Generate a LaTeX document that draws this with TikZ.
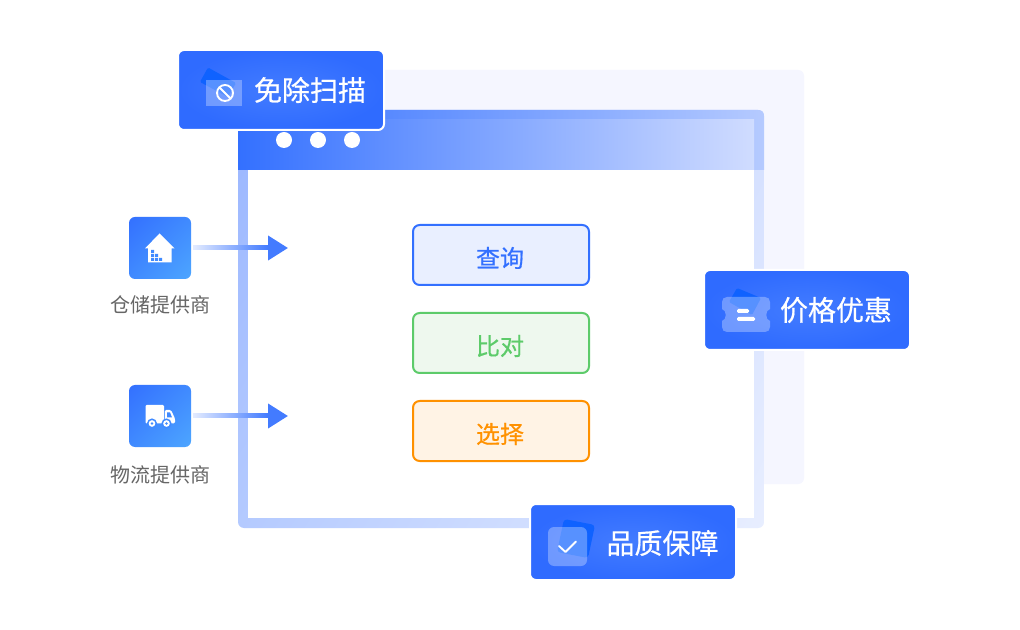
\documentclass[tikz,border=0pt]{standalone}
\usepackage{fontspec}
\setmainfont{Noto Sans CJK SC}
\newfontfamily\cjkmed[FakeBold=0.6]{Noto Sans CJK SC}
\usetikzlibrary{arrows.meta,calc,shapes.geometric,shadings}
\definecolor{brand}{HTML}{3370FF}
\definecolor{panel}{HTML}{F5F6FF}
\definecolor{darktile}{HTML}{0F62FF}
\definecolor{greytext}{HTML}{666666}
\definecolor{okgreen}{HTML}{5DCB6A}
\definecolor{warnorange}{HTML}{FF9100}
\definecolor{tilemid}{HTML}{408AFF}
\definecolor{sky}{HTML}{4DA6FF}
\definecolor{badgein}{HTML}{437CFF}
\definecolor{badgeout}{HTML}{2F6BFF}
\definecolor{frameul}{HTML}{9AB6FF}
\definecolor{frameur}{HTML}{D3DFFF}
\definecolor{framell}{HTML}{B4CAFF}
\definecolor{framelr}{HTML}{E8EEFF}
\definecolor{stripend}{HTML}{B5CAFF}
\definecolor{titlemid}{HTML}{8FAEFF}
\definecolor{titleend}{HTML}{D0DCFF}
\definecolor{fillblue}{HTML}{E9EFFF}
\definecolor{fillgreen}{HTML}{EEF8EE}
\definecolor{fillorange}{HTML}{FFF3E5}
\definecolor{shaftstart}{HTML}{E3EBFF}
\def\px{0.75pt}
\tikzset{
  tile/.style={shade,upper left=brand,upper right=tilemid,lower left=tilemid,lower right=sky,
    rounded corners=4.5pt,minimum width=62*\px,minimum height=62*\px,inner sep=0pt,outer sep=0pt},
  caption/.style={font=\fontsize{15}{15}\selectfont,text=greytext,inner sep=0pt},
  actionbox/.style={rounded corners=5pt,line width=1.5pt,minimum width=176*\px,minimum height=60*\px,inner sep=0pt,outer sep=0pt},
  actionlabel/.style={font=\cjkmed\fontsize{18}{18}\selectfont,inner sep=0pt},
  badge/.style={draw=white,line width=1.5pt,shade,inner color=badgein,outer color=badgeout,rounded corners=4.5pt,inner sep=0pt,outer sep=0pt},
  badgetext/.style={text=white,font=\cjkmed\fontsize{21}{21}\selectfont,inner sep=0pt},
  feed/.style={draw=brand!92!white,line width=3pt,shorten <=1.5pt,-{Triangle[length=15pt,width=18pt]}},
  overlaytile/.style={fill=white,fill opacity=0.3},
  glyph/.style={draw=white,line width=1.4pt,line cap=round,line join=round}
}
\begin{document}
\begin{tikzpicture}[x=0.75pt,y=-0.75pt]
\useasboundingbox (0,0) rectangle (1020,630);
\fill[white] (0,0) rectangle (1020,630);

% back panel
\fill[panel,rounded corners=4.5pt] (278,70) rectangle (804,484);

% window frame
\shade[rounded corners=4.5pt,upper left=frameul,upper right=frameur,lower left=framell,lower right=framelr] (238,110) rectangle (764,528);
\fill[white] (248,170) rectangle (754,518);
\shade[left color=brand,right color=stripend] (238,170) -- (238,110) -- (758,110) .. controls (762,110) and (764,112) .. (764,116) -- (764,170) -- cycle;
\shade[left color=brand,middle color=titlemid,right color=titleend] (238,120) rectangle (754,170);
\foreach \x in {284,318,352}
  \fill[white] (\x,140) circle (6pt);

% action boxes
\node[actionbox,draw=brand,fill=fillblue] (query) at (501,255) {};
\node[actionlabel,text=brand] (querylabel) at (500,258) {查询};
\node[actionbox,draw=okgreen,fill=fillgreen] (compare) at (501,343) {};
\node[actionlabel,text=okgreen] (comparelabel) at (500,346) {比对};
\node[actionbox,draw=warnorange,fill=fillorange] (choose) at (501,431) {};
\node[actionlabel,text=warnorange] (chooselabel) at (500,434) {选择};

% provider tiles
\node[tile] (house) at (160,248) {};
\node[caption] (houselabel) at (160,305) {仓储提供商};
\node[tile] (truck) at (160,416) {};
\node[caption] (trucklabel) at (160,475) {物流提供商};

% house glyph
\fill[white] (159.5,233.5) -- (174.5,248.5) -- (171.5,248.5) -- (171.5,262.5) -- (148,262.5) -- (148,248.5) -- (145,248.5) -- cycle;
\fill[tilemid]
  (151,250) rectangle +(3,3)
  (151,254) rectangle +(3,3) (155,254) rectangle +(3,3)
  (151,258) rectangle +(3,3) (155,258) rectangle +(3,3) (159,258) rectangle +(3,3);

% truck glyph
\fill[white,rounded corners=0.8pt] (145.5,405) rectangle (164,423.5);
\fill[white,rounded corners=1pt] (164.8,410) -- (171,410) -- (175,418.5) -- (175,423.5) -- (164.8,423.5) -- cycle;
\fill[tilemid] (167,412.5) -- (170,412.5) -- (172,417.5) -- (167,417.5) -- cycle;
\foreach \x in {152,166.5}{
  \fill[tilemid] (\x,423.5) circle (3.8pt);
  \fill[white] (\x,423.5) circle (2.5pt);
  \fill[tilemid] (\x,423.5) circle (1pt);
}

% connectors
\coordinate (housetip) at (288,248);
\coordinate (trucktip) at (288,416);
\draw[feed] (house.east) -- (housetip);
\draw[feed] (truck.east) -- (trucktip);
\shade[left color=shaftstart,right color=brand!92!white] ($(house.east)+(2,-2)$) rectangle ($(housetip)+(-20,2)$);
\shade[left color=shaftstart,right color=brand!92!white] ($(truck.east)+(2,-2)$) rectangle ($(trucktip)+(-20,2)$);

% badge: scan
\node[badge,minimum width=206*\px,minimum height=80*\px] (scan) at (281,90) {};
\fill[darktile,rounded corners=1pt] (208,67.5) -- (236,83) -- (228,97) -- (200,82) -- cycle;
\fill[overlaytile] (206,80) rectangle (242,106);
\draw[glyph] (225,93) circle (6pt);
\draw[glyph] (219.5,87.5) -- (230.5,98.5);
\node[badgetext] (scanlabel) at (310,90) {免除扫描};

% badge: price
\node[badge,minimum width=206*\px,minimum height=80*\px] (price) at (807,310) {};
\fill[darktile,rounded corners=1pt] (737,288) -- (761,298) -- (752,315) -- (729,302) -- cycle;
\fill[overlaytile] (727,297) -- (765,297) .. controls (768,297) and (770,299) .. (770,302) -- (770,309) .. controls (765,310) and (765,320) .. (770,321) -- (770,327) .. controls (770,330) and (768,332) .. (765,332) -- (727,332) .. controls (724,332) and (722,330) .. (722,327) -- (722,321) .. controls (727,320) and (727,310) .. (722,309) -- (722,302) .. controls (722,299) and (724,297) .. (727,297) -- cycle;
\fill[white,rounded corners=1pt] (737,309) rectangle (749,313);
\fill[white,rounded corners=1pt] (737,317) rectangle (755,321);
\node[badgetext] (pricelabel) at (836,310) {价格优惠};

% badge: quality
\node[badge,minimum width=206*\px,minimum height=76*\px] (quality) at (633,542) {};
\fill[darktile,rounded corners=2.5pt] (564,519) -- (595,525) -- (588,558) -- (557,552) -- cycle;
\fill[overlaytile,rounded corners=4.5pt] (548,527) rectangle (587,566);
\draw[glyph] (559,546) -- (565.5,552) -- (576,541.5);
\node[badgetext] (qualitylabel) at (662.5,543) {品质保障};
\end{tikzpicture}
\end{document}
